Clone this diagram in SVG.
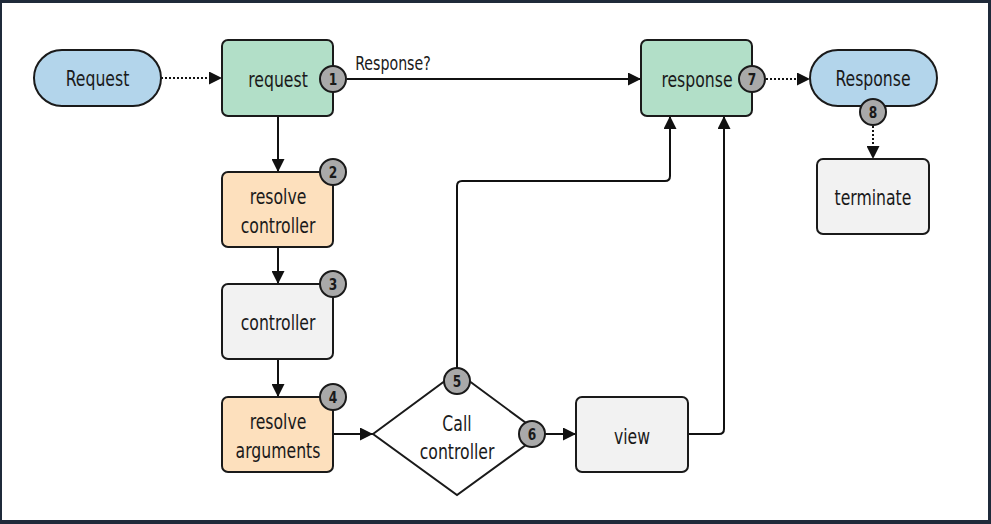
<svg xmlns="http://www.w3.org/2000/svg" width="991" height="524" viewBox="0 0 991 524">
<defs>
<style>
.n{stroke:#1a1a1a;stroke-width:2}
.blue{fill:#b3d5eb}
.green{fill:#b2dfc8}
.orange{fill:#fde0bd}
.gray{fill:#f2f2f2}
.t{font-family:"DejaVu Sans Condensed","DejaVu Sans",sans-serif;font-stretch:condensed;font-size:21px;fill:#1a1a1a;text-anchor:middle;transform-box:fill-box;transform-origin:center;transform:scaleX(0.83)}
.b circle{fill:#a9a9a9;stroke:#1a1a1a;stroke-width:2}
.b text{font-family:"DejaVu Sans Condensed","DejaVu Sans",sans-serif;font-size:16px;font-weight:bold;fill:#1a1a1a;text-anchor:middle;transform-box:fill-box;transform-origin:center;transform:scaleX(0.85)}
.c{fill:none;stroke:#111;stroke-width:2}
.d{stroke-dasharray:2 2}
</style>
<marker id="ah" viewBox="0 0 13 13" refX="13" refY="6.5" markerWidth="13" markerHeight="13" markerUnits="userSpaceOnUse" orient="auto">
<path d="M0,0 L13,6.5 L0,13 Z" fill="#111"/>
</marker>
</defs>
<rect x="0" y="0" width="991" height="524" fill="#1f2a3a"/>
<rect x="2" y="3" width="986" height="517" fill="#ffffff"/>

<g id="connectors">
<path class="c d" d="M161,78 H222" marker-end="url(#ah)"/>
<path class="c" d="M347,79 H641" marker-end="url(#ah)"/>
<text class="t" x="393" y="70" style="font-size:19px">Response?</text>
<path class="c" d="M278,116 V172" marker-end="url(#ah)"/>
<path class="c" d="M278,247 V284" marker-end="url(#ah)"/>
<path class="c" d="M278,359 V397" marker-end="url(#ah)"/>
<path class="c" d="M333,434 H373" marker-end="url(#ah)"/>
<path class="c" d="M545,434 H576" marker-end="url(#ah)"/>
<path class="c" d="M457,368 V186 Q457,181 462,181 H665 Q670,181 670,176 V116" marker-end="url(#ah)"/>
<path class="c" d="M688,434 H719 Q724,434 724,429 V116" marker-end="url(#ah)"/>
<path class="c d" d="M766,79 H810" marker-end="url(#ah)"/>
<path class="c d" d="M873,126 V159" marker-end="url(#ah)"/>
</g>

<g id="node-Request">
<rect class="n blue" x="34" y="50" width="127" height="56" rx="28"/>
<text class="t" x="97.5" y="86">Request</text>
</g>
<g id="node-request">
<rect class="n green" x="222" y="40" width="111" height="76" rx="6"/>
<text class="t" x="278" y="87">request</text>
</g>
<g id="node-resolve-controller">
<rect class="n orange" x="222" y="172" width="111" height="75" rx="6"/>
<text class="t" x="278" y="204">resolve</text>
<text class="t" x="278" y="233">controller</text>
</g>
<g id="node-controller">
<rect class="n gray" x="222" y="284" width="111" height="75" rx="6"/>
<text class="t" x="278" y="330">controller</text>
</g>
<g id="node-resolve-arguments">
<rect class="n orange" x="222" y="397" width="111" height="75" rx="6"/>
<text class="t" x="278" y="429">resolve</text>
<text class="t" x="278" y="458">arguments</text>
</g>
<g id="node-call-controller">
<path class="n" fill="#ffffff" d="M373,434 L457,372 L541,434 L457,495 Z"/>
<text class="t" x="457" y="431">Call</text>
<text class="t" x="457" y="459">controller</text>
</g>
<g id="node-view">
<rect class="n gray" x="576" y="397" width="112" height="75" rx="6"/>
<text class="t" x="632" y="444">view</text>
</g>
<g id="node-response">
<rect class="n green" x="641" y="40" width="111" height="76" rx="6"/>
<text class="t" x="697" y="87">response</text>
</g>
<g id="node-Response">
<rect class="n blue" x="810" y="50" width="127" height="56" rx="28"/>
<text class="t" x="873" y="86">Response</text>
</g>
<g id="node-terminate">
<rect class="n gray" x="817" y="159" width="112" height="75" rx="6"/>
<text class="t" x="873" y="205">terminate</text>
</g>

<g id="badges" class="b">
<g id="badge-1"><circle cx="333" cy="79" r="13"/><text x="333" y="85">1</text></g>
<g id="badge-2"><circle cx="333" cy="172" r="13"/><text x="333" y="178">2</text></g>
<g id="badge-3"><circle cx="333" cy="284" r="13"/><text x="333" y="290">3</text></g>
<g id="badge-4"><circle cx="333" cy="397" r="13"/><text x="333" y="403">4</text></g>
<g id="badge-5"><circle cx="457" cy="381" r="13"/><text x="457" y="387">5</text></g>
<g id="badge-6"><circle cx="532" cy="434" r="13"/><text x="532" y="440">6</text></g>
<g id="badge-7"><circle cx="752" cy="79" r="13"/><text x="752" y="85">7</text></g>
<g id="badge-8"><circle cx="873" cy="112" r="13"/><text x="873" y="118">8</text></g>
</g>
</svg>
